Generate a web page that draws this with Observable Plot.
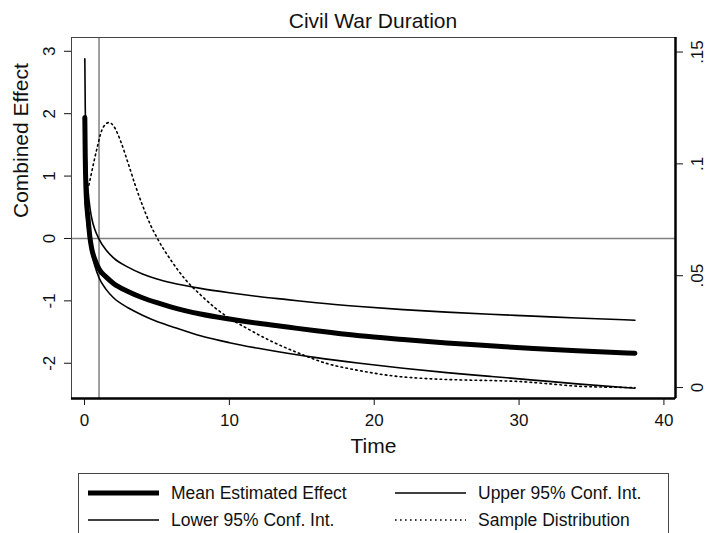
<!DOCTYPE html>
<html><head><meta charset="utf-8">
<script src="https://cdn.jsdelivr.net/npm/d3@7"></script>
<script src="https://cdn.jsdelivr.net/npm/@observablehq/plot@0.6"></script>
<style>
body{margin:0;background:#fff;}
#wrap{position:relative;width:709px;height:533px;overflow:hidden;font-family:"Liberation Sans",Arial,sans-serif;color:#111;background:#fff;}
#title{position:absolute;left:71px;width:604px;top:10px;text-align:center;font-size:21px;line-height:21px;}
#chart{position:absolute;left:0;top:30px;}
#legend{position:absolute;left:78px;top:473px;width:591px;height:80px;border:1px solid #444;box-sizing:border-box;}
.item{position:absolute;height:24px;display:flex;align-items:center;font-size:17.5px;white-space:nowrap;}
.item svg{margin-right:12px;}
</style></head>
<body><div id="wrap"><div id="title">Civil War Duration</div><div id="chart"></div><div id="legend"></div></div>
<script>
// ---- data ----
const time       = [0.02, 0.05, 0.1, 0.15, 0.25, 0.37, 0.5, 0.7, 1, 1.5, 2, 3, 4, 5, 6, 8, 10, 12, 14, 16, 19, 22, 25, 28, 31, 34, 38];
const meanEffect = [1.94, 1.30, 0.79, 0.56, 0.30, 0.02, -0.17, -0.33, -0.49, -0.62, -0.72, -0.85, -0.95, -1.03, -1.10, -1.21, -1.29, -1.36, -1.42, -1.48, -1.56, -1.62, -1.675, -1.72, -1.765, -1.80, -1.84];
const upperCI    = [2.88, 2.10, 1.45, 1.10, 0.75, 0.50, 0.32, 0.15, -0.01, -0.19, -0.31, -0.46, -0.57, -0.65, -0.71, -0.80, -0.87, -0.93, -0.98, -1.03, -1.09, -1.14, -1.18, -1.215, -1.245, -1.275, -1.31];
const lowerCI    = [1.00, 0.60, 0.45, 0.32, 0.10, -0.08, -0.25, -0.43, -0.63, -0.82, -0.95, -1.11, -1.23, -1.33, -1.41, -1.56, -1.67, -1.76, -1.84, -1.91, -2.00, -2.08, -2.15, -2.21, -2.27, -2.33, -2.40];
const distTime    = [0.3, 0.5, 0.7, 0.9, 1.1, 1.3, 1.7, 2.0, 2.5, 3.0, 3.5, 4.0, 4.5, 5.0, 6.0, 7.0, 8.0, 9.0, 10, 11.2, 12.8, 14.7, 16.7, 18.8, 21.3, 23.6, 26, 28.2, 30, 32, 34.3, 38];
const distDensity = [0.0905, 0.0965, 0.1025, 0.108, 0.1133, 0.1165, 0.1185, 0.117, 0.110, 0.1005, 0.0905, 0.0815, 0.0735, 0.067, 0.0566, 0.048, 0.0415, 0.0357, 0.031, 0.0265, 0.021, 0.0156, 0.0108, 0.0078, 0.0052, 0.004, 0.0034, 0.0031, 0.0027, 0.0017, 0.0005, 0];
const xTicks = [0, 10, 20, 30, 40];
const yTicks = [-2, -1, 0, 1, 2, 3];
const rightTicks  = [0, 0.05, 0.1, 0.15];
const rightLabels = ["0", ".05", ".1", ".15"];
const titleText = "Civil War Duration";
const xLabel = "Time";
const yLabel = "Combined Effect";
const legendLabels = ["Mean Estimated Effect", "Upper 95% Conf. Int.", "Lower 95% Conf. Int.", "Sample Distribution"];

// ---- scales ----
const xDomain  = [-0.9, 40.8];
const yDomain  = [-2.565, 3.221];
const y2Domain = [-0.0049, 0.1565];
const y2 = d3.scaleLinear().domain(y2Domain).range(yDomain);
const rightMap = new Map(rightTicks.map((v, i) => [y2(v), rightLabels[i]]));

const effects = time.map((t, i) => ({t, mean: meanEffect[i], upper: upperCI[i], lower: lowerCI[i]}));
const dist = distTime.map((t, i) => ({t, d: distDensity[i]}));

const thin = 1.6;
const chart = Plot.plot({
  width: 709, height: 432,
  marginTop: 7, marginBottom: 64, marginLeft: 71, marginRight: 34,
  x: {domain: xDomain},
  y: {domain: yDomain},
  style: {fontFamily: "'Liberation Sans', Arial, sans-serif", fontSize: "17px", color: "#111", background: "#fff"},
  marks: [
    Plot.ruleY([0], {stroke: "#808080", strokeWidth: 1.5}),
    Plot.ruleX([1], {stroke: "#808080", strokeWidth: 1.5}),
    Plot.line(dist, {x: "t", y: d => y2(d.d), stroke: "#000", strokeWidth: thin, strokeDasharray: "1.6,3.4", curve: "monotone-x"}),
    Plot.line(effects, {x: "t", y: "upper", stroke: "#000", strokeWidth: thin, curve: "monotone-x"}),
    Plot.line(effects, {x: "t", y: "lower", stroke: "#000", strokeWidth: thin, curve: "monotone-x"}),
    Plot.line(effects, {x: "t", y: "mean", stroke: "#000", strokeWidth: 5, curve: "monotone-x"}),
    Plot.frame({stroke: "#444", strokeWidth: 1}),
    Plot.ruleY([yDomain[0]], {stroke: "#000", strokeWidth: 2.5}),
    Plot.ruleX([xDomain[1]], {stroke: "#000", strokeWidth: 2.5}),
    Plot.axisX({ticks: xTicks, tickSize: 7, tickPadding: 8, tickFormat: d => String(d), fontSize: 17, label: null}),
    Plot.axisY({ticks: yTicks, tickSize: 7, tickPadding: 10, tickRotate: -90, tickFormat: d => String(d), textAnchor: "middle", lineAnchor: "bottom", fontSize: 17, label: null}),
    Plot.axisY({anchor: "right", ticks: rightTicks.map(v => y2(v)), tickFormat: v => rightMap.get(v), tickSize: 7, tickPadding: 15, tickRotate: -90, textAnchor: "middle", lineAnchor: "middle", fontSize: 17, label: null}),
    Plot.text([yLabel], {text: d => d, frameAnchor: "left", dx: -50, rotate: -90, fontSize: 21}),
    Plot.text([xLabel], {text: d => d, frameAnchor: "bottom", dy: 54, fontSize: 21})
  ]
});
document.getElementById("chart").appendChild(chart);
document.getElementById("title").textContent = titleText;

// ---- legend ----
const legend = document.getElementById("legend");
const styles = [
  {w: 5, dash: null}, {w: thin, dash: null}, {w: thin, dash: null}, {w: thin, dash: "1.6,3.4"}
];
const pos = [[9, 7], [316, 7], [9, 34], [316, 34]];
legendLabels.forEach((lab, i) => {
  const div = document.createElement("div");
  div.className = "item";
  div.style.left = pos[i][0] + "px";
  div.style.top = pos[i][1] + "px";
  const s = styles[i];
  div.innerHTML = `<svg width="71" height="24"><line x1="0" x2="71" y1="12" y2="12" stroke="#000" stroke-width="${s.w}" ${s.dash ? `stroke-dasharray="${s.dash}"` : ""}/></svg>`;
  const span = document.createElement("span");
  span.textContent = lab;
  div.appendChild(span);
  legend.appendChild(div);
});
</script>
</body></html>
